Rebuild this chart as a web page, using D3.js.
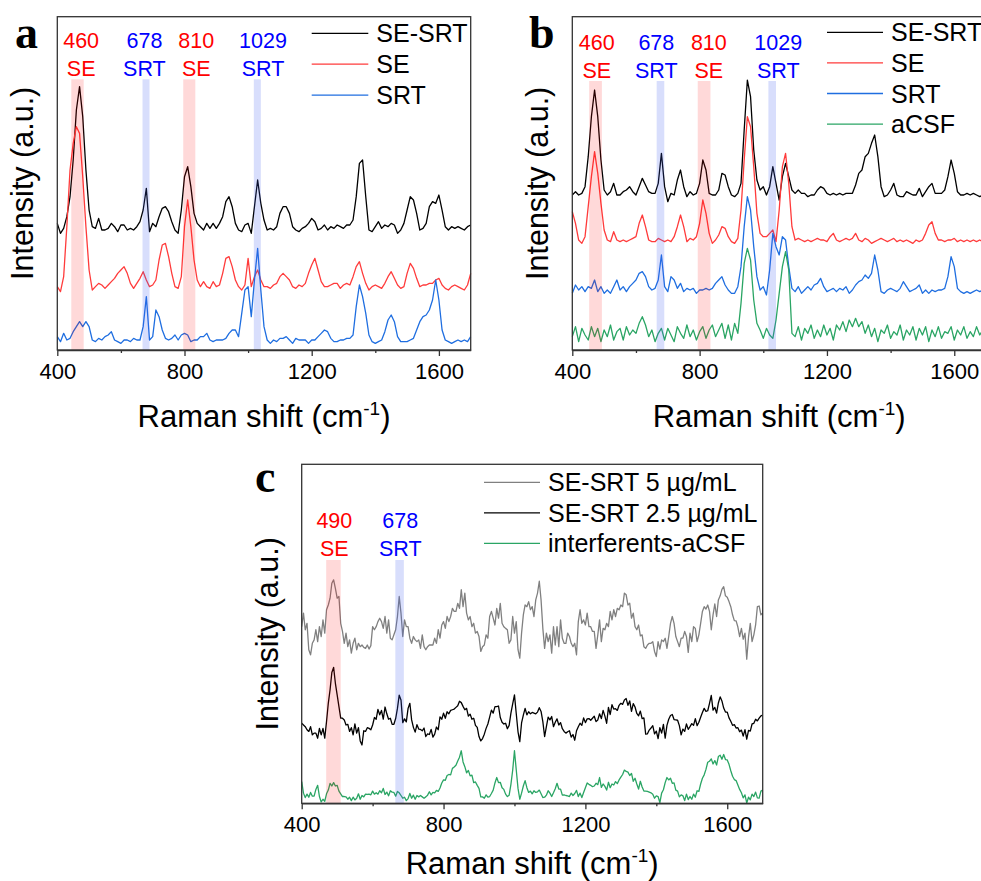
<!DOCTYPE html>
<html><head><meta charset="utf-8">
<script src="https://cdn.jsdelivr.net/npm/d3@7"></script>
<style>html,body{margin:0;padding:0;background:#fff;} svg{display:block;}</style>
</head><body>
<svg id="chart" width="981" height="881"></svg>
<script>
// ---------- DATA ----------
const shiftAB = d3.range(400, 1701, 10); // Raman shift grid for panels a, b (cm-1)
const shiftC = d3.range(400, 1701, 5);   // Raman shift grid for panel c (cm-1)
const xTicksMajor = [400, 800, 1200, 1600];
const xTicksMinor = [600, 1000, 1400];

// Panel a
const aSESRT = [
 38,35,36.5,40,46,57,72,79,70,54,
 42,37,36.5,39.5,36,36,36.5,38,37,35.5,
 37.5,37.5,36,36.5,36,37,38.5,42,48.5,35.5,
 38,37,40,42.5,43,41.5,38.5,36,35,42,
 52,55,49,41,38,37,36,38,36.5,38,
 36.5,38,40,44.5,46,43,38,36,35.5,37.5,
 38,35,43,51,44,39,36,36.5,36,37,
 41,43,43,41,37,36,35.5,36.5,37,38,
 39.5,38.5,36,36.5,37.5,36,37,36.5,37.5,37,
 36.5,37.5,37.5,39,46,56,57,46,36,35.5,
 37,38.5,36.5,37.5,37,38,37.5,35,36,38,
 42,46,45,41,36,36.5,38,43,44.5,44,
 46.5,42,37,36,37,36.5,37,36.5,36,37,
 37.5];
const aSE = [
 19,17.5,22,37,54,62,67,65,52,37,
 24,18,19,20,19.5,18.5,19.5,20.5,21.5,23,
 24,25,23,20,18.5,20,21.5,23.5,21,19,
 19.5,21,27,31.5,32,28,23,19,18.5,22,
 37,45,37,27,21,19,20.5,19,18.5,20.5,
 19,19.5,23,27.5,28,25,21,19,18,19.5,
 27.5,19,22,24,21,19,19,18.5,19.5,20,
 22,23,22,21,19,18.5,19.5,19,20,23,
 25.5,27.5,24,20.5,19,19,19.5,20,20,18.5,
 19.5,20,19.5,22,25,26.5,23,20,18,19,
 19.5,19,18.5,20,22,23.5,21.5,19.5,18.5,19,
 23,26,24.5,21.5,19,19.5,19.5,20,20,21,
 21.5,19.5,18.5,18,19,19.5,19,18.5,18,19.5,
 23];
const aSRT = [
 4,2.5,5,3,3.5,5.5,7,8.5,7,8.5,
 7,3,2.5,3.5,3,4,4.5,5.5,3,2.5,
 2,3,3,2.5,3.5,3,3,7,16,3,
 4,12,10,6,3.5,3,3.5,4.5,3,4.5,
 5,4.5,2.5,3,3,4,4,5,3,2.5,
 3,3,3,3.5,5,6,6,4,11,18,
 19,10,21,30.5,18,7,3,2,3,2.5,
 3.5,3.5,4,3,2,3.5,3,3,3,2,
 3,3,4,5,6,5.5,3.5,2.5,2.5,3,
 3,3.5,3.5,4.5,13,19.5,16,11,4.5,2.5,
 2,2.5,3,5.5,9,10.5,8.5,4,2.5,2.5,
 2.5,3,3.5,6,8.5,10,10.5,12,15,21,
 15,6,3,2.5,2,2.5,3,2.5,3,2.5,
 4];

// Panel b
const bSESRT = [
 46.5,47.5,46.5,47,49,58,70,78,70,57,
 48,46.5,47.5,50,46.5,46.5,47.5,48,49,47.5,
 46.5,49,51.5,49.5,47.5,47,47,50,59,49,
 44.5,47,46.5,51,54,49,46,47.5,46.5,47,
 50,57,54,47,46.5,46.5,48,53,52.5,49,
 46.5,46,47,50,66,81,76,60,51,48,
 49,46.5,49,55,50,45,52,56,52,48,
 47,48,47,47,46,46.5,46.5,48,49,48.5,
 47,46.5,47,46.5,47,46.5,47,47,47,49.5,
 53,54,58,59,62,64.5,58,49,46,46.5,
 48,50,46.5,46,46,47.5,47,46.5,46.5,48.5,
 46,47.5,49,50,47,47,47,48,52,57,
 53,47.5,46.5,46.5,47,46.5,47,46.5,46,46.5,
 46.5];
const bSE = [
 41.5,38,33,32,34,43,52,59.5,53,44,
 36,33,32.5,35.5,33,32.5,33,32.5,33,33.5,
 34,38,40.5,37,33,32.5,32.5,33.5,33,32.5,
 33,32.5,34,37,40.5,37,32.5,33.5,33,34,
 38,45,41,35,32,33,34.5,37,36.5,34,
 32.5,32,33.5,42,57,70,67,55,41,35,
 34,34,35,36,32.5,42,55,59,50,37,
 33,33.5,33,32.5,33,32.5,33,33.5,33,33,
 32.5,34,35,33,32.5,33,33.5,33,33.5,35,
 33,32.5,33.5,33,32,32.5,33,33.5,33,32.5,
 33,33.5,32.5,33,32.5,33,32.5,32,33,32.5,
 33,35,37.5,38.5,35,33,33,32.5,33,33,
 33.5,32.5,33,32.5,33,32.5,33,32.5,33,32.5,
 33];
const bSRT = [
 17,19.5,18,19,17.5,19,18.5,21,17.5,19,
 17,18,17,19,21,18,19,17.5,19,20,
 21,23,23.5,22,19,18,18.5,21,28.5,19,
 17.5,22,21,18.5,20,17.5,18.5,18,18.5,17,
 18,18,18.5,18,18.5,20,21,22,19.5,18,
 17,17,19,25,37,46,42,31,22,18,
 19,16.5,24,35,31,28.5,34,33,25,18.5,
 17.5,19,17,18,19,18,19.5,20,21.5,19,
 17.5,18,18.5,17.5,18.5,18,19,17,18,19.5,
 20.5,21,22.5,21.5,23,28.5,24,17.5,17,18,
 18.5,18,17.5,18.5,20.5,19,17.5,18,18.5,19.5,
 17,18,17,18,17.5,18,18,18.5,22,28,
 25,18.5,17.5,17,17.5,17,17.5,18,17.5,18,
 18];
const bACSF = [
 4,7,2.5,6.5,4.5,3,7,4,6.5,2.5,
 6,4,7.5,3,5.5,6.5,3,7,4.5,6,
 5,8,10,7.5,4,6,2.5,5,6.5,3,
 6.5,4.5,2.5,7,5,3.5,7.5,4,6,3,
 5.5,7,3.5,6,7.5,4,6,8,3.5,7.5,
 3,8,5,14,26,30.5,27,15,8,6,
 3.5,6.5,4.5,3.5,9,17,25,29.5,24,5,
 4,7,3,6.5,5,7.5,3.5,6,4,7.5,
 4.5,6.5,3,7.5,6,8.5,5.5,9,7,9.5,
 7,8.5,5,7.5,4,6.5,2.5,6,5,7.5,
 3.5,5.5,4.5,7.5,3,6,4.5,7,3,6.5,
 4.5,7,2.5,6,4,7,3.5,5.5,5,7,
 3,6,4.5,7,3.5,5.5,4,7,4.5,6,
 5];

// Panel c
const cSESRT5 = [
 52.1,56.1,51.2,53.1,45.3,43.8,47.2,48.2,51.2,47.7,
 52.1,49.2,54.1,50.2,57.1,58.5,60.5,64.9,65.9,63.4,
 60.5,61,53.1,50.7,47.2,50.2,46.2,48.2,44.3,47.2,
 48.7,45.3,47.2,46.2,46.7,46,45.7,46.7,45.5,46.5,
 52.1,51.2,52.1,53.6,54.6,53.6,51.6,55.1,50.2,54.1,
 48.7,48.2,49.7,51.2,55.1,61,56.1,49.2,54.1,52.1,
 52.1,48.7,47.2,49.2,48.2,47.7,48.2,45.7,49.7,46.2,
 45.3,46.2,46.7,46.7,46.7,48.7,47.2,51.2,48.7,52.6,
 53.6,51.6,55.1,53.6,55.1,57.5,56.6,56.6,59,57.5,
 63,58,62,56.1,54.1,55.1,52.1,53.1,50.2,50.7,
 49.2,44.8,46.2,46.7,49.7,48.7,55.1,56.6,54.6,52.6,
 57.5,54.6,59,53.1,52.1,51.6,51.2,47.2,48.2,55.1,
 50.2,53.6,45.3,42.8,50.2,55.6,58.5,58,59.5,57.1,
 58,55.1,60,62,65.5,60,51.6,45.7,50.2,47.7,
 49.7,44.3,52.1,46.7,52.1,46.2,54.1,48.7,47.2,47.2,
 50.2,49.2,47.2,46.2,47.2,43.8,53.6,57.1,53.1,54.1,
 52.6,56.1,52.1,52.1,50.7,50.7,45.7,49.7,54.1,47.7,
 51.6,51.2,53.1,52.1,56.6,54.1,57.1,55.1,57.5,57.1,
 58.5,58,62,61.5,58.5,59,54.6,56.1,52.1,51.2,
 52.6,49.4,49.7,46.2,45.7,46.7,47.2,47.2,47.7,44.8,
 43.3,47.7,45.5,48.2,47.7,48.7,45.7,49.2,53.1,55.1,
 53.1,49.2,47.7,46.2,48.7,48.7,50.7,49.2,44.5,50.2,
 47.7,52.1,51.6,47.7,49.7,53.1,56.6,58,57.3,58.5,
 56.6,51.2,55.6,58.8,55.1,60,61.2,63.1,63.9,61.2,
 60.8,59.5,58,55.6,53.9,53.8,52,49.2,51.6,48.4,
 50.2,42.5,49,53.1,47.7,49.7,52.6,58,58.2,55.6,
 56.1];
const cSESRT25 = [
 23.6,23.1,22.6,21.7,21.2,22.6,20.2,20.7,20.7,19.2,
 22.1,20.2,22.1,19.2,24.1,29.5,33.5,38.6,40.1,35.4,
 32,28.5,25.1,25.1,24.6,23.1,23.3,21.2,22.3,20.2,
 23.4,20.7,22.3,18.4,17.2,21.4,21.2,22.3,22.1,21.7,
 23.1,25.3,24.8,27.7,26.1,27.4,24.8,28.4,26.4,24.8,
 25.1,23.3,23.3,25,28,31.9,30.5,23.8,24.9,24,
 28,29.5,24.6,22.4,21,23.2,21.9,21.8,21.4,22.2,
 19.7,20.5,20.3,21.8,19.5,20.4,22.5,21.7,25.5,24.8,
 26.6,25.1,27,26.4,27.4,27.6,27.8,28.3,28.8,30.1,
 29.7,28.6,27.6,28,25.7,26.3,24.8,25.1,23,22.4,
 19.7,18.4,19.1,20.4,22.1,23.4,25.4,27.5,26.6,28.5,
 28.5,28.7,25.3,23.9,23.4,23.6,22,23,26.6,29.3,
 32,26.5,21.1,18.2,23.7,26,28,26.1,27,26.4,
 26.8,26.6,26.4,26.9,28.2,27.1,24.1,19.7,22.6,25.4,
 24.6,25.6,22.6,23.9,24.9,23.1,23.8,22,21.2,20.7,
 21.1,21.4,19.5,20.3,18.6,21.4,22.6,23.6,23,25.2,
 23.8,24.9,25,24.5,25.1,25.7,24.1,24.6,26.4,25,
 27.4,25.7,23.6,28.3,26.2,29.1,27.8,27.9,27.4,28.9,
 29.5,29.2,30.5,30.9,28.9,30.2,27.1,29.4,28.4,26.5,
 25.8,27.2,25,25.2,20.4,20.5,21.6,22.2,22.9,20.5,
 21.3,19.1,22.3,20.7,23.3,19.2,23,24.8,25.9,26.2,
 24.7,24.6,24.5,22.9,20.2,21.9,21.2,23.4,21.8,22.6,
 23.5,23,25,22.9,23.9,25.4,26.8,28,27.1,27.3,
 29.5,31.8,27.5,28.3,26.6,29.6,31.4,30.2,28.1,26.9,
 26.9,25.2,24.2,23,23.2,22.2,22.3,21.1,21.6,19.8,
 21.7,18.9,21.5,21.3,23.4,23.6,24.8,24.3,25.1,25.8,
 26];
const cInterf = [
 6.4,3,1.7,2.7,1.8,3.2,2.1,2.1,4.1,5.3,
 2,0.4,1.2,0.6,2.8,3.9,5.9,5.1,6.1,5.1,
 5.3,3.6,2.8,2,2,1.9,1.2,1.8,0.8,1.8,
 1,1.5,2.8,1.2,2.3,1.9,2.7,2.6,2.7,2.5,
 3.6,2.7,3.1,2.7,3.7,3.1,4.4,2.6,3.3,2.2,
 3.7,3.3,3.2,2.1,3.5,3.1,2.3,1.5,1.8,0.8,
 1.4,2.9,1.5,2.4,1.2,2.3,1.9,2.3,1.9,1.5,
 1.9,2.4,3.4,2.5,3.2,3.1,3.8,3.5,4.5,6,
 6.9,6.8,8.2,8.5,8.4,10.3,10.7,11.2,12.5,13.6,
 15.5,12.2,10.8,9,9.7,8.1,8.3,6.1,6.3,5.3,
 4.4,1.9,1.9,1.5,2.5,1.8,2,2.9,3.9,6,
 7.6,6.1,6.2,4.6,4.1,2.7,2,2.4,5.6,9.8,
 15.5,9.9,4.4,1.2,3,5.1,6.7,4.6,3.2,3.6,
 2.8,3.7,3.2,3.4,3.9,2.8,1.7,1.8,2.4,3.7,
 3,2,3.1,4.3,5.9,4.2,4.2,2.4,2.5,2.3,
 2.2,2,3,2.3,2.9,3.8,2,3,1.7,3.2,
 4.6,6,5.6,5.3,4.9,5.1,5.9,5.5,7.6,4.7,
 5.7,5,3.9,6.2,4.6,5.7,5.4,6.4,5.8,6.9,
 7.7,8.5,9.8,9.4,9.2,8.2,8.8,6.5,7.4,5.7,
 4.2,6.5,4.8,3.6,3.6,3.5,3.3,3.1,2.7,1.5,
 2.2,2,0.2,3,4,6.1,7.6,6.9,7.4,5.9,
 6,3.9,3.6,1.9,2.5,2.2,0.8,2.7,1.1,2,
 1.2,2.7,1.8,3.7,3.5,5.7,7.4,8.4,10,12.1,
 12.4,13.1,11.6,12.6,11.3,13.8,14.2,13,14.4,12.9,
 12.8,11.5,9.6,8,7,6.7,5.4,4.1,3.1,1.6,
 2.5,0.1,1.8,1,2.7,2,3.3,1.6,1.5,3.6,
 3.9];

// Highlight bands (cm-1) and their labels
const bandsA = [[444,483,"SE"],[668,690,"SRT"],[796,834,"SE"],[1018,1040,"SRT"]];
const bandsB = [[453,493,"SE"],[665,689,"SRT"],[794,834,"SE"],[1016,1040,"SRT"]];
const bandsC = [[469,510,"SE"],[664,688,"SRT"]];
const notesA = [["460","SE",475],["678","SRT",674],["810","SE",837],["1029","SRT",1047]];
const notesB = [["460","SE",477],["678","SRT",664],["810","SE",829],["1029","SRT",1047]];
const notesC = [["490","SE",492],["678","SRT",678]];

const legendA = ["SE-SRT","SE","SRT"];
const legendB = ["SE-SRT","SE","SRT","aCSF"];
const legendC = ["SE-SRT 5 \u00b5g/mL","SE-SRT 2.5 \u00b5g/mL","interferents-aCSF"];

// ---------- STYLE ----------
const COL = {black:"#000000", red:"#ff3b3b", blue:"#1f6ee0", green:"#2aa564", gray:"#808080"};
const BAND = {SE:"rgba(255,0,0,0.15)", SRT:"rgba(60,90,240,0.2)"};
const NOTE = {SE:"#ff0000", SRT:"#0000ff"};
const FONT = "'Liberation Sans', Arial, sans-serif";

const svg = d3.select("#chart");

function drawPanel(p){
  const x = d3.scaleLinear().domain([400,1700]).range([p.left, p.right]);
  const y = d3.scaleLinear().domain([0,100]).range([p.bottom, p.top]);
  const g = svg.append("g");

  // spectra
  const line = d3.line().x((d,i)=>x(p.grid[i])).y(d=>y(d));
  p.series.forEach(s=>{
    g.append("path").attr("d", line(s.values)).attr("fill","none")
     .attr("stroke", s.color).attr("stroke-width",1.3).attr("stroke-linejoin","round");
  });

  // bands (on top, translucent)
  p.bands.forEach(b=>{
    g.append("rect").attr("x", x(b[0])).attr("width", x(b[1])-x(b[0]))
     .attr("y", p.bandTop).attr("height", p.bottom - p.bandTop)
     .attr("fill", BAND[b[2]]);
  });

  // notes
  p.notes.forEach(n=>{
    g.append("text").attr("x", x(n[2])).attr("y", p.noteY).attr("text-anchor","middle")
     .attr("font-family",FONT).attr("font-size",21.5).attr("fill",NOTE[n[1]]).text(n[0]);
    g.append("text").attr("x", x(n[2])).attr("y", p.noteY+27.7).attr("text-anchor","middle")
     .attr("font-family",FONT).attr("font-size",21.5).attr("fill",NOTE[n[1]]).text(n[1]);
  });

  // frame
  g.append("rect").attr("x",p.left).attr("y",p.top).attr("width",p.right-p.left)
   .attr("height",p.bottom-p.top).attr("fill","none").attr("stroke","#333").attr("stroke-width",1.3);

  // x axis
  const ax = g.append("g").attr("transform",`translate(0,${p.bottom})`)
    .call(d3.axisBottom(x).tickValues(xTicksMajor).tickFormat(d3.format("d"))
      .tickSize(6).tickSizeOuter(0).tickPadding(7));
  ax.select(".domain").attr("stroke","#333").attr("stroke-width",1.3);
  ax.selectAll(".tick line").attr("stroke","#333").attr("stroke-width",1.3);
  ax.selectAll(".tick text").attr("font-family",FONT).attr("font-size",22).attr("fill","#000");
  const mx = g.append("g").attr("transform",`translate(0,${p.bottom})`)
    .call(d3.axisBottom(x).tickValues(xTicksMinor).tickSize(3).tickFormat(""));
  mx.select(".domain").remove();
  mx.selectAll(".tick line").attr("stroke","#333").attr("stroke-width",1.3);

  // axis titles
  const xt = g.append("text").attr("x",(p.left+p.right)/2).attr("y",p.xTitleY)
    .attr("text-anchor","middle").attr("font-family",FONT).attr("font-size",31).attr("fill","#000");
  xt.append("tspan").text("Raman shift (cm");
  xt.append("tspan").attr("font-size",19).attr("dy",-12).text("-1");
  xt.append("tspan").attr("font-size",31).attr("dy",12).text(")");
  g.append("text").attr("transform",`translate(${p.left-24},${(p.top+p.bottom)/2}) rotate(-90)`)
    .attr("text-anchor","middle").attr("font-family",FONT).attr("font-size",30.5).attr("fill","#000")
    .text("Intensity (a.u.)");

  // panel letter
  g.append("text").attr("x",p.letterX).attr("y",p.letterY)
    .attr("font-family","'Liberation Serif','Times New Roman',serif").attr("font-weight","bold")
    .attr("font-size",46).attr("fill","#000").text(p.letter);

  // legend
  p.series.forEach((s,i)=>{
    const ly = p.legY + i*p.legStep;
    g.append("line").attr("x1",p.legX1).attr("x2",p.legX2).attr("y1",ly).attr("y2",ly)
     .attr("stroke",s.color).attr("stroke-width",1.3);
    g.append("text").attr("x",p.legX2+8).attr("y",ly+9).attr("font-family",FONT)
     .attr("font-size",25).attr("fill","#000").text(p.legend[i]);
  });
}

drawPanel({letter:"a", letterX:15, letterY:48, left:57.3, right:470.7, top:16.7, bottom:350,
  xTitleY:427, bandTop:79.3, noteY:48.3, grid:shiftAB,
  series:[{values:aSESRT,color:COL.black},{values:aSE,color:COL.red},{values:aSRT,color:COL.blue}],
  bands:bandsA, notes:notesA, legend:legendA, legX1:311.7, legX2:368.3, legY:33.3, legStep:30.9});

drawPanel({letter:"b", letterX:529, letterY:48, left:572.3, right:986.1, top:16.7, bottom:350,
  xTitleY:427, bandTop:81, noteY:50, grid:shiftAB,
  series:[{values:bSESRT,color:COL.black},{values:bSE,color:COL.red},{values:bSRT,color:COL.blue},{values:bACSF,color:COL.green}],
  bands:bandsB, notes:notesB, legend:legendB, legX1:827, legX2:883, legY:32.3, legStep:30.6});

drawPanel({letter:"c", letterX:255, letterY:492, left:301.7, right:762.7, top:464.3, bottom:803.3,
  xTitleY:874, bandTop:560, noteY:528.3, grid:shiftC,
  series:[{values:cSESRT5,color:COL.gray},{values:cSESRT25,color:COL.black},{values:cInterf,color:COL.green}],
  bands:bandsC, notes:notesC, legend:legendC, legX1:484, legX2:540, legY:482.3, legStep:30.5});
</script>
</body></html>
